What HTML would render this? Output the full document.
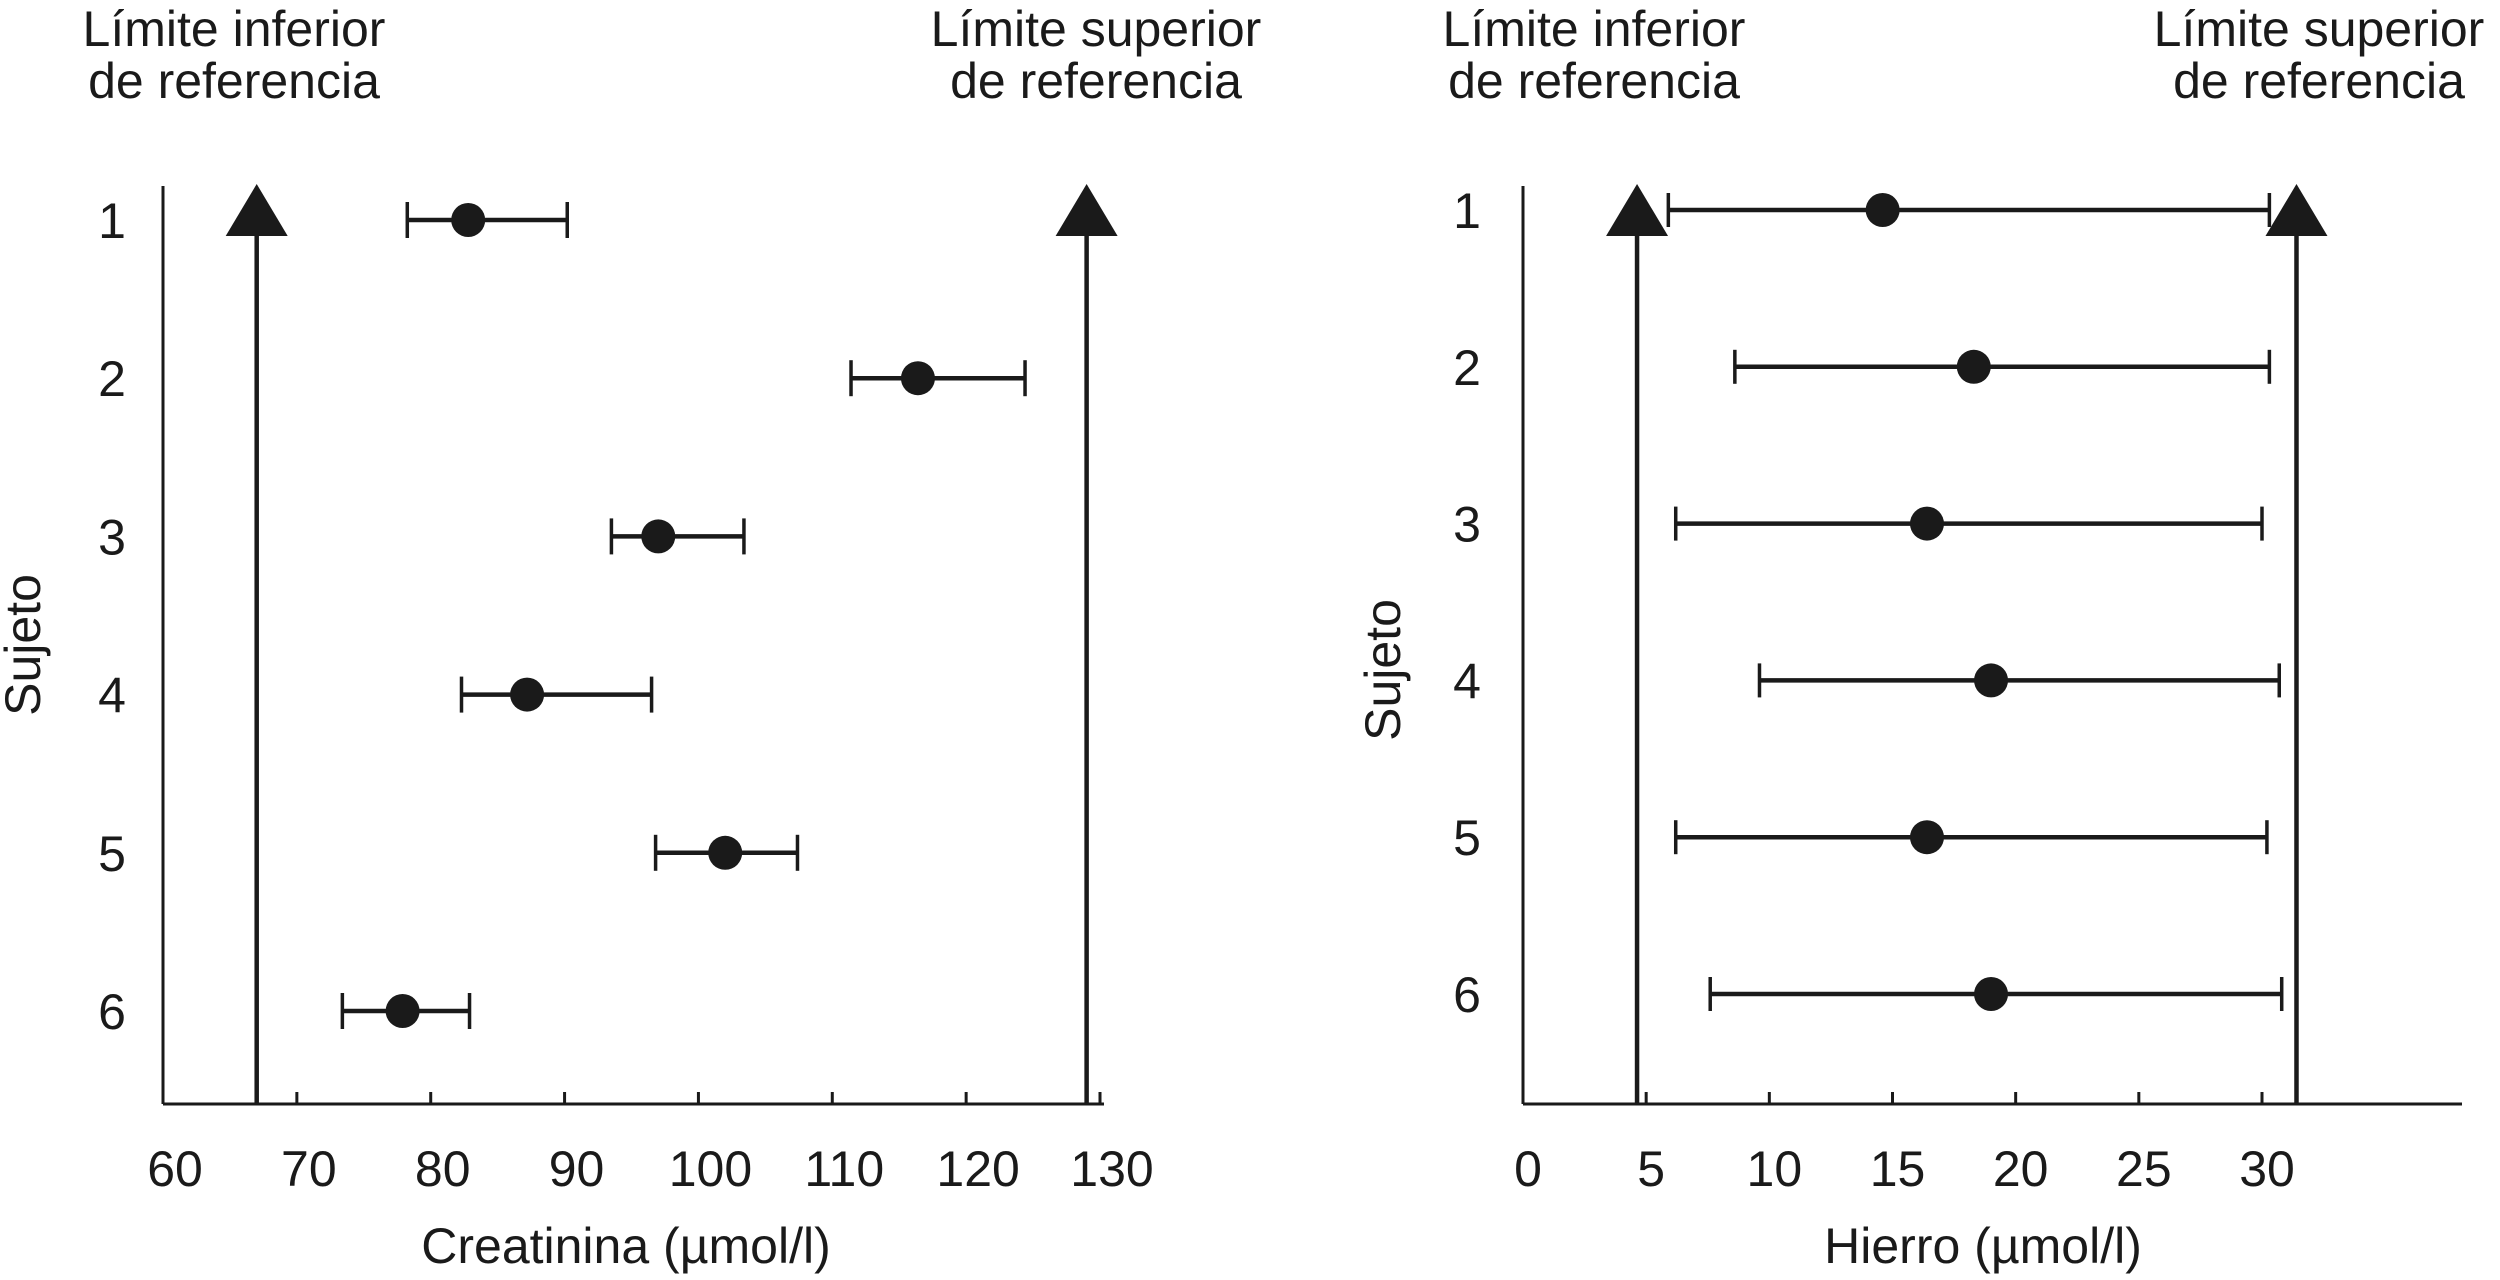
<!DOCTYPE html>
<html><head><meta charset="utf-8"><style>
html,body{margin:0;padding:0;background:#fff;}
svg{display:block;}
text{font-family:"Liberation Sans",sans-serif;fill:#1a1a1a;font-size:50px;}
</style></head><body>
<svg id="chart" width="2500" height="1280" viewBox="0 0 2500 1280" xmlns="http://www.w3.org/2000/svg">
<g id="left"></g>
<g id="right"></g>
</svg>
<script>
const subjects = [1,2,3,4,5,6];
const creatLow = [78.25,111.4,93.5,82.3,96.8,73.4];
const creatMean = [82.8,116.4,97.0,87.2,102.0,77.9];
const creatHigh = [90.2,124.4,103.4,96.5,107.4,82.9];
const creatTicks = [60,70,80,90,100,110,120,130];
const creatRefs = [67.0,129.0];
const ironLow = [5.9,8.6,6.2,9.6,6.2,7.6];
const ironMean = [14.6,18.3,16.4,19.0,16.4,19.0];
const ironHigh = [30.3,30.3,30.0,30.7,30.2,30.8];
const ironTicks = [0,5,10,15,20,25,30];
const ironRefs = [4.63,31.4];

const NS='http://www.w3.org/2000/svg';
function mk(parent,tag,attrs,txt){const e=document.createElementNS(NS,tag);for(const k in attrs)e.setAttribute(k,attrs[k]);if(txt!==undefined)e.textContent=txt;parent.appendChild(e);return e;}

function panel(g,cfg){
  const xs=v=>cfg.x0+(v-cfg.v0)*(cfg.x1-cfg.x0)/(cfg.v1-cfg.v0);
  const ys=i=>cfg.yTop+i*cfg.yStep;
  let e;
  e=mk(g,'line',{x1:cfg.x0,y1:186,x2:cfg.x0,y2:1104,stroke:'#1a1a1a','stroke-width':3});
  
  
  e=mk(g,'line',{x1:cfg.x0,y1:1104,x2:cfg.axisEnd,y2:1104,stroke:'#1a1a1a','stroke-width':3});
  
  
  cfg.ticks.forEach(t=>{
    if(t!==cfg.v0){
      e=mk(g,'line',{x1:xs(t),y1:1104,x2:xs(t),y2:1092,stroke:'#1a1a1a','stroke-width':3});
      
      
    }
    e=mk(g,'text',{x:xs(t)+cfg.tickShift,y:1186,'text-anchor':'middle'},String(t));
    
    
  });
  cfg.refs.forEach((r,k)=>{
    const x=xs(r);
    e=mk(g,'line',{x1:x,y1:230,x2:x,y2:1104,stroke:'#1a1a1a','stroke-width':4.5});
    
    
    e=mk(g,'polygon',{points:`${x},184 ${x-31},236 ${x+31},236`,fill:'#1a1a1a'});
    
    
  });
  subjects.forEach((s,i)=>{
    const y=ys(i);
    e=mk(g,'text',{x:cfg.labelX,y:y+18,'text-anchor':'middle'},String(s));
    
    
    const lo=xs(cfg.low[i]),hi=xs(cfg.high[i]);
    e=mk(g,'line',{x1:lo,y1:y,x2:hi,y2:y,stroke:'#1a1a1a','stroke-width':4.5});
    
    
    [lo,hi].forEach(cx=>{
      e=mk(g,'line',{x1:cx,y1:y-cfg.cap,x2:cx,y2:y+cfg.cap,stroke:'#1a1a1a','stroke-width':3.5});
      
      
    });
    e=mk(g,'circle',{cx:xs(cfg.mean[i]),cy:y,r:17,fill:'#1a1a1a'});
    
    
  });
  e=mk(g,'text',{x:cfg.titleX,y:1263,'text-anchor':'middle'},cfg.title);
  
  
  e=mk(g,'text',{x:0,y:0,'text-anchor':'middle',transform:`translate(${cfg.sujX},${cfg.sujY}) rotate(-90)`},'Sujeto');
  
  
  [[cfg.h1x,'Límite inferior','de referencia','lower-limit-header'],[cfg.h2x,'Límite superior','de referencia','upper-limit-header']].forEach(h=>{
    e=mk(g,'text',{x:h[0],y:46,'text-anchor':'middle'},h[1]);
    
    
    e=mk(g,'text',{x:h[0],y:98,'text-anchor':'middle'},h[2]);
    
    
  });
}
panel(document.getElementById('left'),{x0:163,x1:1100,v0:60,v1:130,axisEnd:1104,yTop:220,yStep:158.2,tickShift:12,
  ticks:creatTicks,refs:creatRefs,low:creatLow,mean:creatMean,high:creatHigh,cap:18,labelX:112,
  title:'Creatinina (µmol/l)',titleX:626,sujX:40,sujY:645,h1x:234,h2x:1096});
panel(document.getElementById('right'),{x0:1523,x1:2262,v0:0,v1:30,axisEnd:2462,yTop:210,yStep:156.8,tickShift:5,
  ticks:ironTicks,refs:ironRefs,low:ironLow,mean:ironMean,high:ironHigh,cap:17,labelX:1467,
  title:'Hierro (µmol/l)',titleX:1983,sujX:1400,sujY:670,h1x:1594,h2x:2319});
</script>
</body></html>
